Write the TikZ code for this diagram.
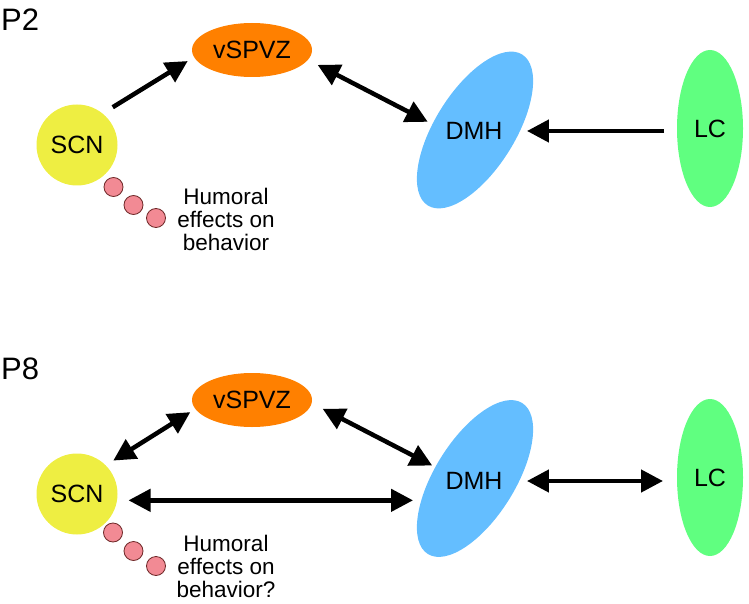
\documentclass[tikz,border=0pt]{standalone}
\usepackage{fontspec}
\setmainfont{Liberation Sans}
\usepackage{tikz}
\usetikzlibrary{arrows.meta}
\usetikzlibrary{shapes.geometric}
\definecolor{scnyellow}{RGB}{238,238,66}
\definecolor{vspvzorange}{RGB}{255,128,0}
\definecolor{dmhblue}{RGB}{100,190,255}
\definecolor{lcgreen}{RGB}{96,255,128}
\definecolor{dotpink}{RGB}{242,138,148}
\definecolor{dotedge}{RGB}{110,40,40}
\newcommand{\nucfont}{\fontsize{25}{30}\selectfont}
\newcommand{\agefont}{\fontsize{31}{36}\selectfont}
\newcommand{\humfont}{\fontsize{22.5}{23}\selectfont}
\tikzstyle{nucleus}=[inner sep=0, outer sep=0, font=\nucfont, text depth=0pt]
\tikzstyle{scnnucleus}=[nucleus, circle, fill=scnyellow, minimum size=81]
\tikzstyle{vspvznucleus}=[nucleus, ellipse, fill=vspvzorange, minimum width=120, minimum height=54]
\tikzstyle{dmhbody}=[inner sep=0, ellipse, fill=dmhblue, minimum width=178, minimum height=80, rotate=58]
\tikzstyle{lcnucleus}=[nucleus, ellipse, fill=lcgreen, minimum width=66, minimum height=157]
\tikzstyle{hormone}=[circle, inner sep=0, minimum size=19, fill=dotpink, draw=dotedge, line width=0.8]
\tikzstyle{projection}=[line width=4.5, -{Triangle[length=22pt, width=22pt]}]
\tikzstyle{biprojection}=[projection, {Triangle[length=22pt, width=22pt]}-{Triangle[length=22pt, width=22pt]}]
\tikzstyle{nucleimap}=[x=1pt, y=-1pt,
                       % Panel titles and the humoral caption.
                       age/.style={inner sep=0, anchor=base west, font=\agefont},
                       humoral/.style={inner sep=0, align=center, font=\humfont}]

\begin{document}
\begin{tikzpicture}[nucleimap]
    \useasboundingbox (0, 0) rectangle (749, 604);
    % P2
    \node[age] (p2) at (1, 31) {P2};
    \node[scnnucleus] (scn2) at (77, 145) {SCN};
    \node[vspvznucleus] (vspvz2) at (252, 50) {vSPVZ};
    \node[dmhbody] (dmh2body) at (475, 130) {};
    \node[nucleus] (dmh2) at (474, 131) {DMH};
    \node[lcnucleus] (lc2) at (710, 128.5) {LC};
    \node[hormone] (dot2a) at (113.5, 187) {};
    \node[hormone] (dot2b) at (133.5, 205) {};
    \node[hormone] (dot2c) at (156, 218) {};
    \node[humoral] (hum2) at (226, 219) {Humoral\\effects on\\behavior};
    \draw[projection, shorten <=12, shorten >=7.5] (scn2.51) -- (vspvz2.187);
    \draw[biprojection, shorten <=11, shorten >=20] (vspvz2.350) -- (dmh2.west);
    \draw[projection, shorten <=13, shorten >=24.5] (lc2.west |- dmh2.east) -- (dmh2.east);
    % P8
    \node[age] (p8) at (1, 379) {P8};
    \node[scnnucleus] (scn8) at (77, 494) {SCN};
    \node[vspvznucleus] (vspvz8) at (252, 400) {vSPVZ};
    \node[dmhbody] (dmh8body) at (475, 478.5) {};
    \node[nucleus] (dmh8) at (474, 481) {DMH};
    \node[lcnucleus] (lc8) at (710, 477.5) {LC};
    \node[hormone] (dot8a) at (113, 532.5) {};
    \node[hormone] (dot8b) at (133.5, 551) {};
    \node[hormone] (dot8c) at (156, 566) {};
    \node[humoral] (hum8) at (226, 566) {Humoral\\effects on\\behavior?};
    \draw[biprojection, shorten <=9, shorten >=6] (scn8.45) -- (vspvz8.189);
    \draw[biprojection, shorten <=12.5, shorten >=15] (vspvz8.357) -- (dmh8.north west);
    \draw[biprojection, shorten <=11.5, shorten >=32.5] (scn8.-9) -- (scn8.-9 -| dmh8.west);
    \draw[biprojection, shorten <=24.5, shorten >=14] (dmh8.east) -- (dmh8.east -| lc8.west);
\end{tikzpicture}
\end{document}
